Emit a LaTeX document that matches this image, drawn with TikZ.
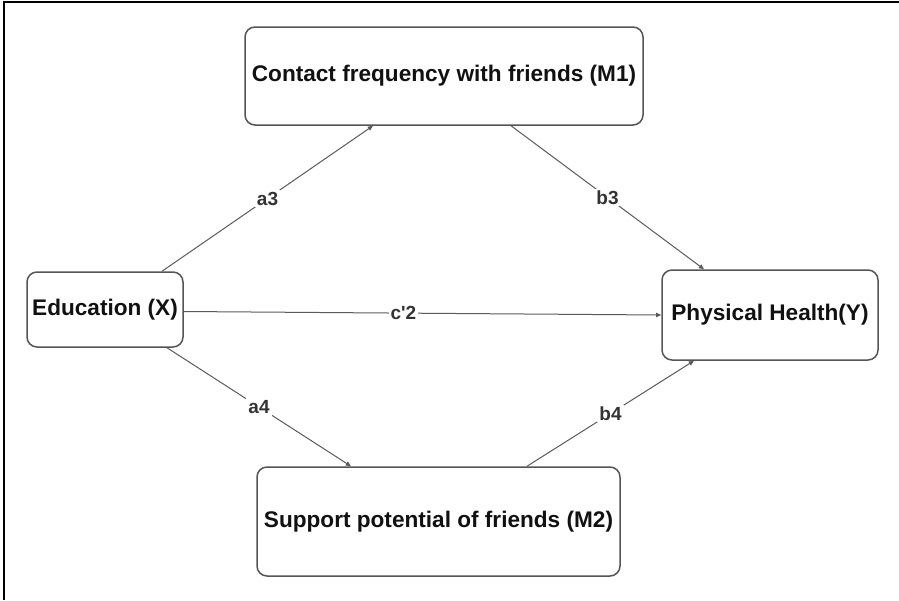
\documentclass[tikz,border=0pt]{standalone}
\usepackage{fontspec}
\setmainfont{Liberation Sans}
\usetikzlibrary{arrows.meta,calc}
\definecolor{boxline}{HTML}{555555}
\definecolor{arrline}{HTML}{5A5A5A}
\definecolor{txt}{HTML}{111111}
\definecolor{lbl}{HTML}{333333}
\begin{document}
\begin{tikzpicture}[x=0.5pt,y=-0.5pt,
  varbox/.style={draw=boxline,line width=0.75pt,rounded corners=5pt,align=center,
    font=\fontsize{11.3}{13}\selectfont\bfseries,text=txt,inner sep=0pt},
  path/.style={draw=arrline,line width=0.5pt,-{Triangle[length=2.6pt,width=2.2pt]}},
  plabel/.style={fill=white,inner sep=1pt,font=\fontsize{9.5}{11}\selectfont\bfseries,text=lbl}]
\useasboundingbox (0,0) rectangle (899,600);
\draw[line width=1pt,black] (4,600) -- (4,2) -- (899,2);
\node[varbox,minimum width=199pt,minimum height=49pt] (M1) at (444,76) {Contact frequency with friends (M1)};
\node[varbox,minimum width=78pt,minimum height=37.5pt] (X) at (105,309.5) {Education (X)};
\node[varbox,minimum width=108pt,minimum height=45pt] (Y) at (770,315) {Physical Health(Y)};
\node[varbox,minimum width=181.5pt,minimum height=54.5pt] (M2) at (438.5,521.5) {Support potential of friends (M2)};
\draw[path] ($(X.north)+(57,0)$) -- node[plabel]{a3} ($(M1.south)+(-71,0)$);
\draw[path] ($(X.south)+(62,0)$) -- node[plabel]{a4} ($(M2.north)+(-87.5,0)$);
\draw[path] ($(M1.south)+(67,0)$) -- node[plabel]{b3} ($(Y.north)+(-66,0)$);
\draw[path] ($(M2.north)+(88.5,0)$) -- node[plabel]{b4} ($(Y.south)+(-76,0)$);
\draw[path] ($(X.east)+(0,2)$) -- node[plabel,pos=0.46]{c\textquotesingle2} (Y.west);
\end{tikzpicture}
\end{document}
